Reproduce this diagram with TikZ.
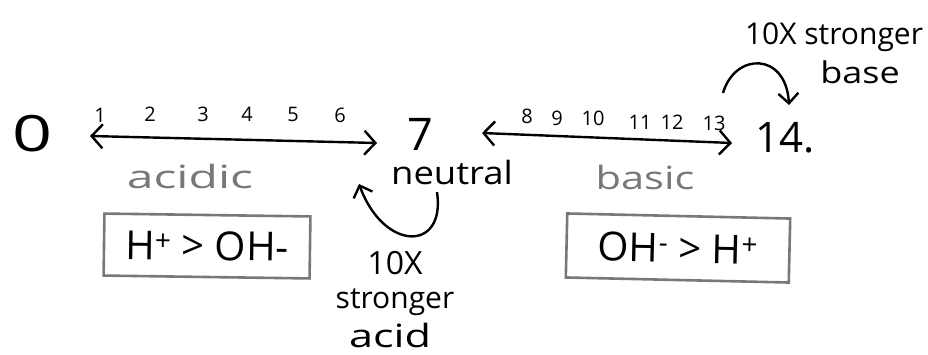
\documentclass[tikz,border=0pt]{standalone}
\usepackage{fontspec}
\usepackage{graphicx}
\setmainfont{Open Sans}
\usetikzlibrary{arrows.meta}

% pencil grey used for the shaded words and box outlines
\definecolor{pencil}{RGB}{120,120,120}

\newcommand{\wide}[2]{\scalebox{#1}[1]{#2}}

\tikzset{
  tick/.style={font=\fontsize{20}{20}\selectfont, inner sep=0pt},
  big/.style={inner sep=0pt},
  word/.style={font=\fontsize{32}{32}\selectfont, inner sep=0pt},
  note/.style={font=\fontsize{30}{30}\selectfont, inner sep=0pt},
  axis/.style={line width=2.4pt, {Straight Barb[length=11pt,width=24pt]}-{Straight Barb[length=11pt,width=24pt]}},
  curlarrow/.style={line width=2.4pt, -{Straight Barb[length=10pt,width=20pt]}},
  ratio/.style={draw=pencil, line width=2.6pt, minimum width=206pt, minimum height=62pt,
                inner sep=0pt, font=\fontsize{40}{40}\selectfont}
}

\begin{document}
\begin{tikzpicture}[x=1pt, y=-1pt]
  \useasboundingbox[fill=white] (0,0) rectangle (928,354);

  % scale end points
  \node[big, font=\fontsize{50}{50}\selectfont] (p0) at (33,134) {\wide{1.4}{0}};
  \node[big, font=\fontsize{45}{45}\selectfont] (p7) at (420,134) {7};
  \node[big, anchor=west, font=\fontsize{42}{42}\selectfont] (p14) at (755,138) {14.};

  % tick numbers over the acidic side
  \node[tick] (t1) at (100,115) {1};
  \node[tick] (t2) at (150,114) {2};
  \node[tick] (t3) at (203,114) {3};
  \node[tick] (t4) at (247,114) {4};
  \node[tick] (t5) at (293,114) {5};
  \node[tick] (t6) at (340,115) {6};

  % tick numbers over the basic side
  \node[tick] (t8) at (527,116) {8};
  \node[tick] (t9) at (557,118) {9};
  \node[tick] (t10) at (593,118) {10};
  \node[tick] (t11) at (640,122) {11};
  \node[tick] (t12) at (672,122) {12};
  \node[tick] (t13) at (714,123) {13};

  % double-headed ranges
  \coordinate (a1) at (90,136);
  \coordinate (a2) at (377,143);
  \coordinate (b1) at (482,133);
  \coordinate (b2) at (732,143);
  \draw[axis] (a1) -- (a2);
  \draw[axis] (b1) -- (b2);

  % region names
  \node[word, text=pencil] (acidic) at (190,176) {\wide{1.5}{acidic}};
  \node[word] (neutral) at (452,172) {\wide{1.14}{neutral}};
  \node[word, text=pencil] (basic) at (645,177) {\wide{1.3}{basic}};

  % ion comparisons
  \node[ratio, rotate=-0.8] (hbox) at (207,246) {H\textsuperscript{+} > OH-};
  \node[ratio, rotate=-1.3, minimum width=223pt, minimum height=64pt] (ohbox) at (678,248) {OH\textsuperscript{-} > H\textsuperscript{+}};

  % note under neutral
  \node[word] (acidx) at (395,263) {10X};
  \node[note] (acids) at (395,302) {stronger};
  \node[word] (acidw) at (390,335) {\wide{1.35}{acid}};
  \coordinate (c1) at (437,192);
  \coordinate (c2) at (359,184);
  \draw[curlarrow] (c1) .. controls (446,252) and (384,252) .. (c2);

  % note above 14
  \node[note] (basex) at (834,37) {10X stronger};
  \node[note] (basew) at (860,72) {\wide{1.2}{base}};
  \coordinate (d1) at (723,93);
  \coordinate (d2) at (789,105);
  \draw[curlarrow] (d1) .. controls (735,52) and (786,52) .. (d2);
\end{tikzpicture}
\end{document}
